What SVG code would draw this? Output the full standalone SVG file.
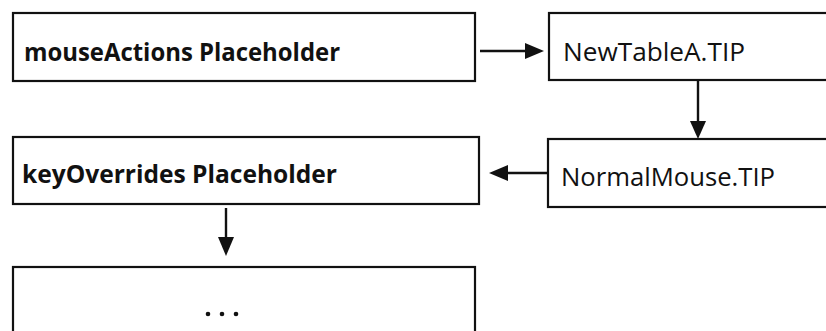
<svg xmlns="http://www.w3.org/2000/svg" width="826" height="331" viewBox="0 0 826 331">
  <defs>
    <style>
      .box { fill: #ffffff; stroke: #111111; stroke-width: 2.2; }
      .lbl { font-family: "Open Sans", "Liberation Sans", sans-serif; font-size: 25px; fill: #111111; }
      .bold { font-weight: bold; }
      .wire { stroke: #111111; stroke-width: 2.4; fill: none; }
      .head { fill: #111111; stroke: none; }
    </style>
  </defs>
  <rect width="826" height="331" fill="#ffffff"/>

  <g id="mouseActions">
    <rect class="box" x="13" y="13" width="462" height="68"/>
    <text class="lbl bold" x="24" y="61" textLength="316" lengthAdjust="spacingAndGlyphs">mouseActions Placeholder</text>
  </g>

  <g id="newTableA">
    <rect class="box" x="549" y="13" width="290" height="67"/>
    <text class="lbl" x="563" y="61" textLength="182" lengthAdjust="spacingAndGlyphs">NewTableA.TIP</text>
  </g>

  <g id="keyOverrides">
    <rect class="box" x="13" y="137" width="466" height="67"/>
    <text class="lbl bold" x="22" y="183" textLength="315" lengthAdjust="spacingAndGlyphs">keyOverrides Placeholder</text>
  </g>

  <g id="normalMouse">
    <rect class="box" x="548" y="139" width="290" height="68"/>
    <text class="lbl" x="561" y="186" textLength="214" lengthAdjust="spacingAndGlyphs">NormalMouse.TIP</text>
  </g>

  <g id="ellipsis">
    <rect class="box" x="13" y="267" width="462" height="80"/>
    <circle class="head" cx="208" cy="314" r="2.3"/>
    <circle class="head" cx="222" cy="314" r="2.3"/>
    <circle class="head" cx="236" cy="314" r="2.3"/>
  </g>

  <g id="connectors">
    <!-- mouseActions -> NewTableA -->
    <line class="wire" x1="480" y1="51" x2="528" y2="51"/>
    <polygon class="head" points="525,43 544,51 525,59"/>
    <!-- NewTableA -> NormalMouse -->
    <line class="wire" x1="698" y1="80" x2="698" y2="124"/>
    <polygon class="head" points="690,121 706,121 698,139"/>
    <!-- NormalMouse -> keyOverrides -->
    <line class="wire" x1="548" y1="173" x2="505" y2="173"/>
    <polygon class="head" points="508,165 489,173 508,181"/>
    <!-- keyOverrides -> next -->
    <line class="wire" x1="226" y1="208" x2="226" y2="240"/>
    <polygon class="head" points="218,237 234,237 226,256"/>
  </g>
</svg>
